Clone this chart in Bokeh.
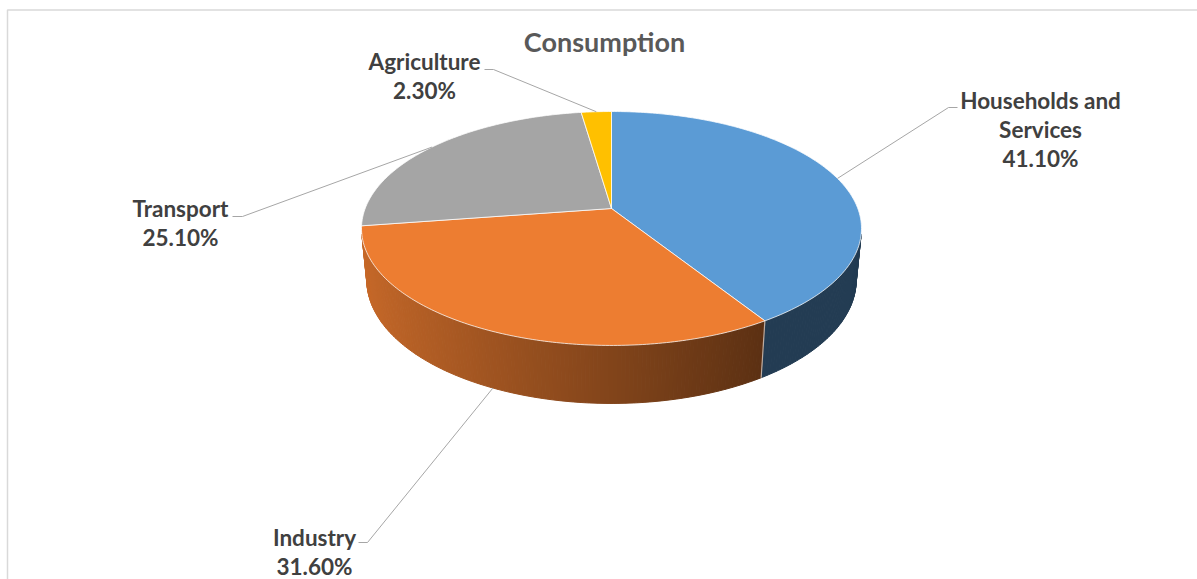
import math
import numpy as np
from bokeh.plotting import figure
from bokeh.models import Range1d, ColumnDataSource
from bokeh.core.properties import value
from bokeh.embed import file_html
from bokeh.resources import INLINE

# ---------------- data ----------------
title = "Consumption"
categories = ["Households and Services", "Industry", "Transport", "Agriculture"]
label_lines = [["Households and", "Services"], ["Industry"], ["Transport"], ["Agriculture"]]
shares = [41.1, 31.6, 25.1, 2.3]
colors = ["#5B9BD5", "#ED7D31", "#A5A5A5", "#FFC000"]

# ---------------- layout (3D pie camera) ----------------
W, H = 1197, 579
CX, CY = 611.0, 208.0
FOC = 1279.6
SIN_T, COS_T = 0.461, 0.8874
DIST = 5.195
THICK = 0.239

# label block: centre x, first baseline y, leader start / elbow (screen px)
label_layout = [
    dict(x=1040, y=109, lead=[(957, 107), (948, 107)]),
    dict(x=314, y=546, lead=[(358, 542), (367, 542)]),
    dict(x=180, y=217, lead=[(232, 216), (242, 216)]),
    dict(x=424, y=70, lead=[(484, 69), (493, 69)]),
]
LINE_GAP = 29.0
LABEL_SIZE = 22.5
TITLE_SIZE = 27
TEXT_SHIFT = 0.4  # renderer baseline correction, in font-size units


def proj(phi_deg, r=1.0, z=0.0):
    ph = np.radians(phi_deg)
    u = r * np.cos(ph)
    v = r * np.sin(ph)
    depth = DIST + v * COS_T - z * SIN_T
    return CX + FOC * u / depth, CY - FOC * (v * SIN_T + z * COS_T) / depth


def hex_to_rgb(h):
    h = h.lstrip("#")
    return tuple(int(h[i:i + 2], 16) for i in (0, 2, 4))


def shade(hexcol, f):
    r, g, b = hex_to_rgb(hexcol)
    return "#%02x%02x%02x" % (int(r * f), int(g * f), int(b * f))


total = sum(shares)
starts, ends = [], []
a = 90.0
for s in shares:
    span = 360.0 * s / total
    starts.append(a)
    ends.append(a - span)
    a -= span

p = figure(width=W, height=H, x_range=Range1d(0, W), y_range=Range1d(H, 0),
           output_backend="svg", toolbar_location=None, min_border=0,
           background_fill_color="white", border_fill_color="white")
p.axis.visible = False
p.grid.visible = False
p.outline_line_color = None

# outer chart frame
p.multi_line(xs=[[7, 7, W + 50]], ys=[[H + 50, 9.5, 9.5]], line_color="#d9d9d9", line_width=1.5)

# ---------------- side walls (front-facing part only) ----------------
sil = math.degrees(math.asin(1.0 / (DIST * COS_T)))
FRONT_LO, FRONT_HI = -180.0 + sil, -sil

wx, wy, wc = [], [], []
seams = []
for i in range(len(shares)):
    lo, hi = ends[i], starts[i]
    for k in (-1, 0, 1):
        a0 = max(lo + 360 * k, FRONT_LO)
        a1 = min(hi + 360 * k, FRONT_HI)
        if a1 - a0 <= 0:
            continue
        n = max(2, int(math.ceil((a1 - a0) / 0.8)))
        edges = np.linspace(a0, a1, n + 1)
        for j in range(n):
            e0, e1 = edges[j], edges[j + 1]
            tx0, ty0 = proj(e0)
            tx1, ty1 = proj(e1)
            bx1, by1 = proj(e1, z=-THICK)
            bx0, by0 = proj(e0, z=-THICK)
            um = math.cos(math.radians((e0 + e1) / 2))
            f = min(0.85, max(0.39, 0.55 - 0.30 * um))
            wx.append([tx0, tx1, bx1, bx0])
            wy.append([ty0, ty1, by1, by0])
            wc.append(shade(colors[i], f))
    ang = starts[i]
    if math.sin(math.radians(ang)) < -0.25:
        x0, y0 = proj(ang)
        x1, y1 = proj(ang, z=-THICK)
        seams.append(([x0, x1], [y0, y1]))

p.patches(xs=wx, ys=wy, fill_color=wc, line_color=wc, line_width=1)
if seams:
    p.multi_line(xs=[s[0] for s in seams], ys=[s[1] for s in seams],
                 line_color="white", line_alpha=0.6, line_width=1.2)

# ---------------- top faces ----------------
txs, tys = [], []
for i in range(len(shares)):
    n = max(2, int(math.ceil((starts[i] - ends[i]) / 0.8)))
    angs = np.linspace(starts[i], ends[i], n + 1)
    ax_, ay_ = proj(angs)
    txs.append([CX] + list(ax_))
    tys.append([CY] + list(ay_))
p.patches(xs=txs, ys=tys, fill_color=colors, line_color="white", line_alpha=0.75, line_width=1)

# ---------------- leader lines ----------------
lx, ly = [], []
for i in range(len(shares)):
    mid = (starts[i] + ends[i]) / 2
    if math.sin(math.radians(mid)) < -0.5:
        ax_, ay_ = proj(mid, z=-THICK)
    else:
        ax_, ay_ = proj(mid)
    pts = label_layout[i]["lead"]
    lx.append([pts[0][0], pts[1][0], float(ax_)])
    ly.append([pts[0][1], pts[1][1], float(ay_)])
p.multi_line(xs=lx, ys=ly, line_color="#a6a6a6", line_width=1)

# ---------------- labels ----------------
tx, ty, tt = [], [], []
for i in range(len(shares)):
    lines = label_lines[i] + ["%.2f%%" % shares[i]]
    for k, t in enumerate(lines):
        tx.append(label_layout[i]["x"])
        ty.append(label_layout[i]["y"] + k * LINE_GAP - TEXT_SHIFT * LABEL_SIZE)
        tt.append(t)
src = ColumnDataSource(dict(x=tx, y=ty, text=tt))
p.text(x="x", y="y", text="text", source=src, text_font=value("Lato"),
       text_font_style="bold", text_font_size="%spx" % LABEL_SIZE, text_color="#404040",
       text_align="center", text_baseline="alphabetic")

p.text(x=[604], y=[52 - TEXT_SHIFT * TITLE_SIZE], text=[title], text_font=value("Lato"),
       text_font_style="bold", text_font_size="%spx" % TITLE_SIZE, text_color="#595959",
       text_align="center", text_baseline="alphabetic")

open("out.html", "w").write(file_html(p, INLINE))
